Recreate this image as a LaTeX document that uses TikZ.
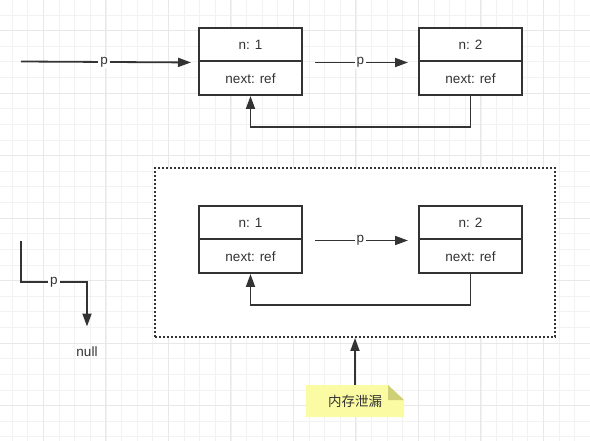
\documentclass[tikz,border=0pt]{standalone}
\usepackage{fontspec}
\setmainfont{Liberation Sans}
\newfontfamily\cjk{Noto Sans CJK SC}
\usetikzlibrary{arrows.meta}
\definecolor{ink}{HTML}{333333}
\definecolor{gridminor}{HTML}{F2F2F2}
\definecolor{gridmajor}{HTML}{E8E8E8}
\definecolor{notefill}{HTML}{FBFBA3}
\definecolor{notefold}{HTML}{CFCF78}

\begin{document}
\begin{tikzpicture}[
  x=1pt,y=-1pt,
  font=\fontsize{13.5}{16}\selectfont,
  cell/.style={draw=ink,line width=2pt,fill=white,text=ink,
               minimum width=103pt,minimum height=33.5pt,inner sep=0pt},
  link/.style={draw=ink,line width=1.8pt,-{Triangle[length=13pt,width=9pt]}},
  lbl/.style={fill=white,text=ink,inner xsep=2pt,inner ysep=1pt},
  heapbox/.style={draw=ink,line width=2pt,dash pattern=on 2pt off 2pt,fill=white,
                  minimum width=400pt,minimum height=169pt,inner sep=0pt}
]
  \useasboundingbox (0,0) rectangle (590,441);
  \fill[white] (0,0) rectangle (590,441);
  % grid
  \foreach \k in {0,...,36}
    \draw[gridminor,line width=1pt] (12.3+15.625*\k,0)--(12.3+15.625*\k,441);
  \foreach \k in {0,...,27}
    \draw[gridminor,line width=1pt] (0,15.07+15.625*\k)--(590,15.07+15.625*\k);
  \foreach \k in {0,...,8}
    \draw[gridmajor,line width=1pt] (43.3+62.5*\k,0)--(43.3+62.5*\k,441);
  \foreach \k in {0,...,6}
    \draw[gridmajor,line width=1pt] (0,30.7+62.5*\k)--(590,30.7+62.5*\k);

  % list before
  \node[cell] (a1) at (250.5,44.75) {n: 1};
  \node[cell] (a1r) at (250.5,78.25) {next: ref};
  \node[cell] (a2) at (470.5,44.75) {n: 2};
  \node[cell] (a2r) at (470.5,78.25) {next: ref};
  \coordinate (head) at (21,61.5);
  \draw[link,shorten >=7pt] (head) -- node[lbl,pos=0.47]{p} (a1.south west);
  \draw[link,shorten <=12pt,shorten >=10pt] (a1.south east) -- node[lbl]{p} (a2.south west);
  \draw[link] (a2r.south) -- ++(0,31) -| (a1r.south);

  % list after
  \node[heapbox] (heap) at (355,252.5) {};
  \node[cell] (b1) at (250.5,222.75) {n: 1};
  \node[cell] (b1r) at (250.5,256.25) {next: ref};
  \node[cell] (b2) at (470.5,222.75) {n: 2};
  \node[cell] (b2r) at (470.5,256.25) {next: ref};
  \draw[link,shorten <=12pt,shorten >=10pt] (b1.south east) -- node[lbl]{p} (b2.south west);
  \draw[link] (b2r.south) -- ++(0,31) -| (b1r.south);

  % p set to null
  \coordinate (tail) at (21,241);
  \node[text=ink] (null) at (87,352) {null};
  \draw[link,shorten >=17pt] (tail) -- ++(0,41) -| node[lbl,pos=0.25]{p} (null.north);

  % note
  \fill[notefill] (306,385) -- (388,385) -- (404,400) -- (404,417) -- (306,417) -- cycle;
  \fill[notefold] (388,385) -- (388,400) -- (404,400) -- cycle;
  \node[text=ink,font=\cjk\fontsize{13.5}{16}\selectfont,
        minimum width=98pt,minimum height=32pt,inner sep=0pt] (leak) at (355,401) {内存泄漏};
  \draw[link] (leak.north) -- (heap.south);
\end{tikzpicture}
\end{document}
